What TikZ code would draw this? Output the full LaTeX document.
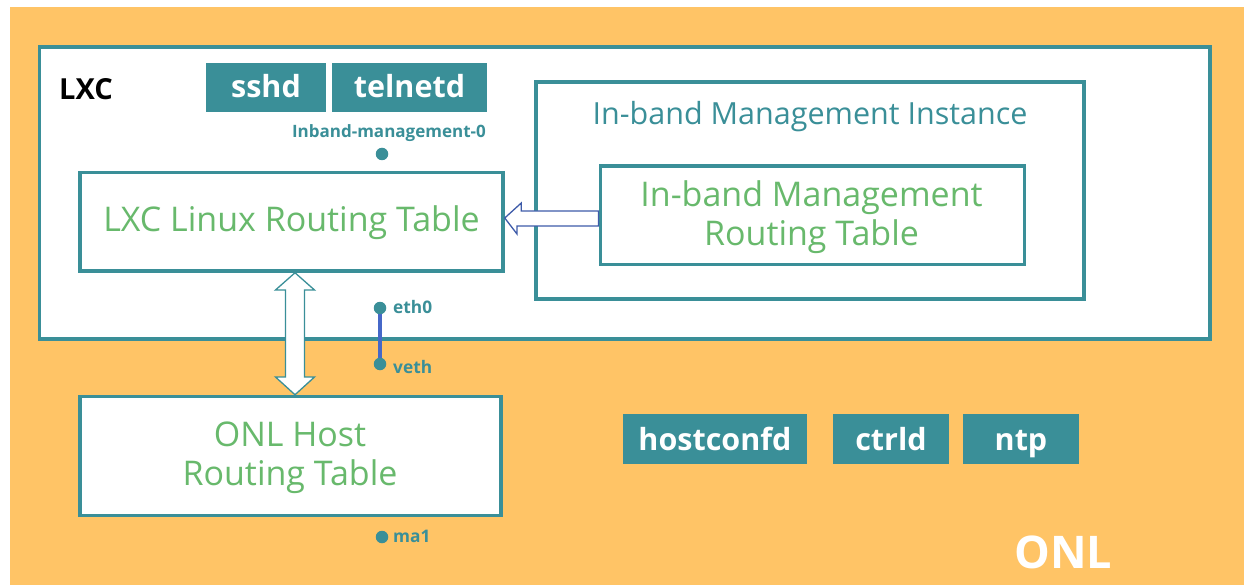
\documentclass[tikz,border=0pt]{standalone}
\usepackage{fontspec}
\setmainfont{Open Sans}
\definecolor{tealc}{HTML}{3A8F98}
\definecolor{greenc}{HTML}{68B96C}
\definecolor{orangec}{HTML}{FFC466}
\definecolor{arrowblue}{HTML}{3E5BA9}
\definecolor{linkblue}{HTML}{4668C8}
\tikzset{
  frame/.style={draw=tealc, line width=3.5pt, fill=white, inner sep=0pt},
  svc/.style={fill=tealc, text=white, inner sep=0pt, minimum height=49pt,
    text height=23pt, text depth=3.5pt,
    font=\bfseries\fontsize{30.5}{30.5}\selectfont},
  onlsvc/.style={svc, minimum height=50pt, text height=23pt, text depth=0pt},
  rttext/.style={text=greenc, anchor=base, inner sep=0pt, font=\fontsize{34}{34}\selectfont},
  port/.style={circle, fill=tealc, inner sep=0pt, minimum size=12.5pt},
  portlabel/.style={text=tealc, inner sep=0pt, anchor=base west, font=\bfseries\fontsize{17.3}{17.3}\selectfont},
}
\begin{document}
\begin{tikzpicture}[x=1pt,y=-1pt]
\useasboundingbox (0,0) rectangle (1244,585);
\fill[orangec] (10,7) rectangle (1244,585);

% LXC container
\node[frame, minimum width=1170.5pt, minimum height=292pt] (lxc) at (624.75,193) {};
\node[anchor=base west, inner sep=0pt, font=\bfseries\fontsize{29}{29}\selectfont] (lxclabel) at (59,100) {LXC};

% services in LXC
\node[svc, minimum width=120pt] (sshd) at (266,87.5) {sshd};
\node[svc, minimum width=155pt] (telnetd) at (409.5,87.5) {telnetd};
\node[text=tealc, inner sep=0pt, anchor=base east, font=\bfseries\fontsize{17}{17}\selectfont] (ibm0) at (486,138) {Inband-management-0};
\node[port] (ibm0dot) at (382,154) {};

% LXC routing table
\node[frame, minimum width=423pt, minimum height=98.5pt] (lxcrt) at (291.5,221.75) {};
\node[rttext] (lxcrttext) at (291.5,232) {LXC Linux Routing Table};

% In-band management instance
\node[frame, minimum width=548pt, minimum height=217pt] (ibi) at (810,190.5) {};
\node[anchor=base, inner sep=0pt, text=tealc, font=\fontsize{30.5}{30.5}\selectfont] (ibilabel) at (810,125) {In-band Management Instance};
\node[frame, minimum width=424pt, minimum height=98.5pt] (ibrt) at (812.25,215.25) {};
\node[rttext] (ibrttext1) at (811.5,207) {In-band Management};
\node[rttext] (ibrttext2) at (811.5,246) {Routing Table};

% ONL host routing table
\node[frame, minimum width=421pt, minimum height=119pt] (onlrt) at (290.5,456) {};
\node[rttext] (onlrttext1) at (290,446) {ONL Host};
\node[rttext] (onlrttext2) at (290,485) {Routing Table};

% ONL services
\node[onlsvc, minimum width=184pt] (hostconfd) at (715,439) {hostconfd};
\node[onlsvc, minimum width=116pt] (ctrld) at (891,439) {ctrld};
\node[onlsvc, minimum width=116pt] (ntp) at (1021,439) {ntp};

% ports
\node[port] (eth0) at (380,308) {};
\node[port] (veth) at (380,364) {};
\draw[linkblue, line width=3.5pt] (eth0) -- (veth);
\node[portlabel] (eth0lbl) at (393,313) {eth0};
\node[portlabel] (vethlbl) at (393,373) {veth};
\node[port] (ma1) at (382,537) {};
\node[portlabel] (ma1lbl) at (393,542) {ma1};

% ONL label
\node[anchor=base west, inner sep=0pt, text=white, font=\bfseries\fontsize{45}{45}\selectfont] (onllabel) at (1014,568) {ONL};

% block arrow from in-band routing table to LXC routing table
\coordinate (htip) at (lxcrt.east |- 0,218);
\coordinate (htail) at (ibrt.west |- 0,218);
\draw[arrowblue, line width=1.3pt, fill=white, line join=miter]
  (htip) -- ++(16.5,-15) -- ++(0,8) -- (htail |- 0,211) -- (htail |- 0,226) -- (517,226) -- (517,234) -- cycle;

% double block arrow between LXC routing table and ONL host routing table
\coordinate (vtop) at (lxcrt.south -| 295,0);
\coordinate (vbot) at (onlrt.north -| 295,0);
\draw[tealc, line width=1.3pt, fill=white, line join=miter]
  (vtop) -- (314.5,290) -- (304.5,290) -- (304.5,377) -- (314.5,377) -- (vbot)
  -- (275.5,377) -- (285.5,377) -- (285.5,290) -- (275.5,290) -- cycle;
\end{tikzpicture}
\end{document}
